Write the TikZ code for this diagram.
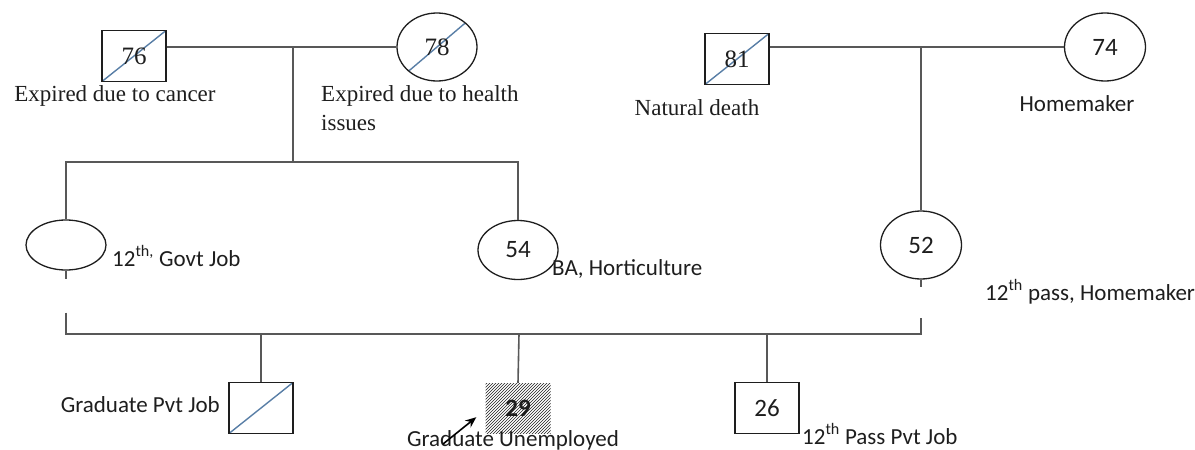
\documentclass[tikz,border=0pt]{standalone}
\usepackage{fontspec}
\setmainfont{Carlito}
\newfontfamily\oldface{Liberation Serif}
\usetikzlibrary{positioning,shapes.geometric,arrows.meta,calc,patterns}
\definecolor{linegray}{RGB}{88,88,88}
\definecolor{diagblue}{RGB}{88,126,166}
\definecolor{inkgray}{RGB}{30,30,30}

\begin{document}
\begin{tikzpicture}[
    x=1pt, y=-1pt,
    font=\fontsize{23}{29}\selectfont,
    text=inkgray,
    >={Stealth[length=11pt,width=9pt]},
    male/.style     = {rectangle, draw=inkgray, line width=1.3pt, inner sep=0pt,
                       minimum width=64pt, minimum height=51pt,
                       font=\fontsize{25}{29}\selectfont},
    female/.style   = {ellipse, draw=inkgray, line width=1.3pt, inner sep=0pt,
                       minimum width=80pt, minimum height=68pt,
                       font=\fontsize{25}{29}\selectfont},
    deceased/.style = {path picture={\draw[diagblue, line width=1.4pt]
                         (path picture bounding box.south west) --
                         (path picture bounding box.north east);}},
    affected/.style = {rectangle, inner sep=0pt, minimum width=65pt,
                       minimum height=50pt, pattern=north east lines,
                       pattern color=inkgray,
                       font=\fontsize{25}{29}\selectfont\bfseries},
    oldfont/.style  = {font=\fontsize{25}{29}\selectfont\oldface},
    note/.style     = {inner sep=0pt},
    oldnote/.style  = {note, font=\fontsize{23}{29}\selectfont\oldface},
    tie/.style      = {draw=linegray, line width=1.6pt},
    pointer/.style  = {->, line width=1.6pt, black}
]
\useasboundingbox (0,0) rectangle (1195,450);

% --- Grandparents (father's side) -------------------------------------------
\node[male, deceased, oldfont]   (gf1) at (134,56) {76};
\node[female, deceased, oldfont] (gm1) at (437,47) {78};
\node[oldnote, anchor=base]      (gf1-note) at (115,101) {Expired due to cancer};
\node[oldnote, anchor=base west, align=left] (gm1-note) at (321,130)
  {Expired due to health\\issues};

% --- Grandparents (mother's side) -------------------------------------------
\node[male, deceased, oldfont]   (gf2) at (737,59) {81};
\node[female, minimum width=81pt] (gm2) at (1105,47) {74};
\node[oldnote, anchor=base]      (gf2-note) at (697,115) {Natural death};
\node[note, anchor=base]         (gm2-note) at (1077,111) {Homemaker};

% --- Parents' generation ----------------------------------------------------
\node[female, minimum height=50pt] (par1)  at (66,245)  {};
\node[female, minimum height=59pt] (sib54) at (518,250) {54};
\node[female, minimum width=81pt]  (par2)  at (921,245) {52};
\node[note, anchor=base west] (par1-note)  at (112,266) {12\textsuperscript{th,} Govt Job};
\node[note, anchor=base west] (sib54-note) at (552,275) {BA, Horticulture};
\node[note, anchor=base west] (par2-note)  at (985,300) {12\textsuperscript{th} pass, Homemaker};

% --- Children -----------------------------------------------------------------
\node[male, deceased] (kid1) at (261,408) {};
\node[affected]       (kid2) at (518,408) {29};
\node[male]           (kid3) at (767,408) {26};
\node[note, anchor=base east] (kid1-note) at (220,412) {Graduate Pvt Job};
\node[note, anchor=base]      (kid2-note) at (513,446) {Graduate Unemployed};
\node[note, anchor=base west] (kid3-note) at (802,444) {12\textsuperscript{th} Pass Pvt Job};

% --- Lines of descent ---------------------------------------------------------
\coordinate (tie1)  at (293,48);
\coordinate (sibs1) at (293,162);
\coordinate (tie2)  at (921,48);
\coordinate (sibs2) at (519,334);

\draw[tie] (gf1.east |- gm1.west) -- (gm1.west);
\draw[tie] (tie1) -- (sibs1);
\draw[tie] (par1.north) |- (sibs1) -| (sib54.north);

\draw[tie] (gf2.east |- gm2.west) -- (gm2.west);
\draw[tie] (tie2) -- (par2.north);

% broken drop from the two parents
\draw[tie] (par1.south) -- ++(0,8);
\draw[tie] (par2.south) -- ++(0,7);
\draw[tie] ($(par1.south)+(0,42)$) |- (sibs2) -| ($(par2.south)+(0,38)$);

\draw[tie] (sibs2) -- (kid2.north);
\draw[tie] (kid1.north |- sibs2) -- (kid1.north);
\draw[tie] (kid3.north |- sibs2) -- (kid3.north);

% pointer to the index person
\coordinate (ptr) at (443,444);
\draw[pointer] (ptr) -- ([shift={(-9,-16)}]kid2.south west);

\end{tikzpicture}
\end{document}
